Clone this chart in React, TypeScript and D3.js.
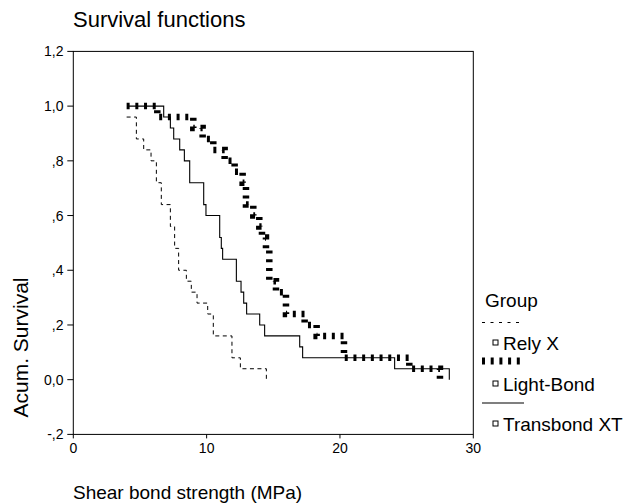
import React from "react";
import * as d3 from "d3";

// ---- data ----
const relyXTimes = [4.0, 4.73, 5.28, 5.83, 6.23, 6.6, 7.28, 7.6, 7.9, 8.48, 8.85, 9.28, 10.08, 10.5, 11.9, 12.53, 14.48];
const relyXSurv = [0.96, 0.88, 0.84, 0.8, 0.72, 0.64, 0.56, 0.48, 0.4, 0.36, 0.32, 0.28, 0.24, 0.16, 0.08, 0.04, 0.0];

const lightBondTimes = [4.0, 6.3, 9.0, 9.7, 10.5, 11.35, 12.1, 12.7, 12.95, 13.5, 13.95, 14.15, 14.45, 14.7, 15.2, 15.95, 17.35, 18.25, 20.3, 25.2, 27.5];
const lightBondSurv = [1.0, 0.96, 0.92, 0.88, 0.84, 0.8, 0.76, 0.72, 0.64, 0.6, 0.56, 0.52, 0.48, 0.36, 0.32, 0.24, 0.2, 0.16, 0.08, 0.04, 0.0];

const transbondTimes = [4.03, 6.78, 7.28, 7.53, 7.98, 8.33, 8.73, 9.78, 9.95, 10.98, 11.1, 11.2, 12.23, 12.58, 12.78, 13.0, 13.98, 14.35, 16.98, 17.2, 24.1, 28.2];
const transbondSurv = [1.0, 0.96, 0.92, 0.88, 0.84, 0.8, 0.72, 0.64, 0.6, 0.52, 0.48, 0.44, 0.36, 0.32, 0.28, 0.24, 0.2, 0.16, 0.12, 0.08, 0.04, 0.0];

const groupNames = ["Rely X", "Light-Bond", "Transbond XT"];
const yTickValues = [-0.2, 0, 0.2, 0.4, 0.6, 0.8, 1.0, 1.2];
const yTickLabels = ["-,2", "0,0", ",2", ",4", ",6", ",8", "1,0", "1,2"];
const xTickValues = [0, 10, 20, 30];
const xTickLabels = ["0", "10", "20", "30"];

const FONT = "'Liberation Sans', Arial, Helvetica, sans-serif";

export default function App() {
  const x = d3.scaleLinear().domain([0, 30]).range([73.3, 473.3]);
  const y = d3.scaleLinear().domain([-0.2, 1.2]).range([434.4, 51.4]);

  const line = d3
    .line<[number, number]>()
    .x((d) => x(d[0]))
    .y((d) => y(d[1]))
    .curve(d3.curveStepAfter);

  const zip = (t: number[], s: number[]) => t.map((v, i) => [v, s[i]] as [number, number]);

  const series = [
    { name: groupNames[0], d: line(zip(relyXTimes, relyXSurv)) || "", width: 1, dash: "4 3.5" },
    { name: groupNames[1], d: line(zip(lightBondTimes, lightBondSurv)) || "", width: 6.5, dash: "3 5.7" },
    { name: groupNames[2], d: line(zip(transbondTimes, transbondSurv)) || "", width: 1.1, dash: "none" },
  ];

  const legendLineY = [322.5, 361, 403];
  const legendTextY = [350, 391, 431];
  const legendDash = ["3 5.5", "3 5.7", "none"];
  const legendWidth = [1, 7, 1.1];

  return (
    <svg width={628} height={504} style={{ display: "block", background: "#fff" }} fontFamily={FONT}>
      <style>{`body{margin:0}`}</style>
      <rect x={0} y={0} width={628} height={504} fill="#fff" />
      <text x={73} y={26.5} fontSize={22} fill="#000">Survival functions</text>

      {/* frame */}
      <rect x={x(0)} y={y(1.2)} width={x(30) - x(0)} height={y(-0.2) - y(1.2)} fill="none" stroke="#000" strokeWidth={1} />

      {/* y ticks */}
      {yTickValues.map((v, i) => (
        <g key={"y" + i}>
          <line x1={x(0) - 6} x2={x(0)} y1={y(v)} y2={y(v)} stroke="#000" strokeWidth={1} />
          <text x={63.5} y={y(v) + 5} fontSize={14} textAnchor="end" fill="#000">{yTickLabels[i]}</text>
        </g>
      ))}
      {/* x ticks */}
      {xTickValues.map((v, i) => (
        <g key={"x" + i}>
          <line x1={x(v)} x2={x(v)} y1={y(-0.2)} y2={y(-0.2) + 4} stroke="#000" strokeWidth={1} />
          <text x={x(v)} y={452.5} fontSize={14} textAnchor="middle" fill="#000">{xTickLabels[i]}</text>
        </g>
      ))}

      {/* curves */}
      {series.map((s) => (
        <path key={s.name} d={s.d} fill="none" stroke="#000" strokeWidth={s.width} strokeDasharray={s.dash} strokeLinecap="butt" strokeLinejoin="miter" />
      ))}

      {/* axis titles */}
      <text transform="translate(28,347.5) rotate(-90)" fontSize={21} textAnchor="middle" fill="#000">Acum. Survival</text>
      <text x={73} y={499} fontSize={19} fill="#000">Shear bond strength (MPa)</text>

      {/* legend */}
      <text x={485} y={306.5} fontSize={19} fill="#000">Group</text>
      {groupNames.map((g, i) => (
        <g key={g}>
          <line x1={482} x2={524} y1={legendLineY[i]} y2={legendLineY[i]} stroke="#000" strokeWidth={legendWidth[i]} strokeDasharray={legendDash[i]} />
          <rect x={493} y={legendTextY[i] - 10} width={5} height={5} fill="none" stroke="#000" strokeWidth={1} />
          <text x={503} y={legendTextY[i]} fontSize={19} fill="#000">{g}</text>
        </g>
      ))}
    </svg>
  );
}
